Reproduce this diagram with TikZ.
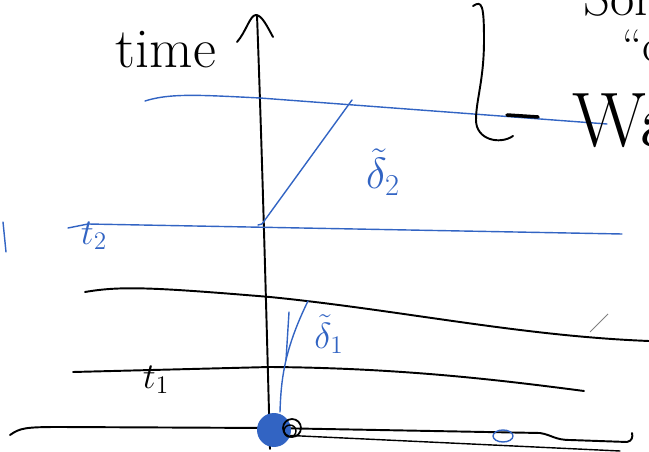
\documentclass[tikz,border=0pt]{standalone}
\usepackage{amsmath}

\definecolor{penblue}{RGB}{50,100,195}
\tikzset{
  inkline/.style={line width=1.1pt, color=black, line cap=round, line join=round},
  blueline/.style={line width=0.8pt, color=penblue, line cap=round, line join=round},
  hand/.style={inner sep=0pt}
}

\begin{document}
\begin{tikzpicture}[x=0.02cm,y=-0.02cm]
\useasboundingbox (0,0) rectangle (649,452);
\clip (0,0) rectangle (649,452);
% time axis
\draw[inkline] (270,449) .. controls (266,300) and (262,150) .. (257,15);
\draw[inkline] (237,42) .. controls (246,32) and (250,15) .. (256,15) .. controls (262,15) and (268,28) .. (273,37);
\node[hand, font=\fontsize{32}{32}\selectfont] (timelbl) at (166,50) {time};
% slices (blue)
\draw[blueline] (145,101) .. controls (170,93) and (200,95) .. (260,98) -- (607,124);
\draw[blueline] (68,228) -- (88,224) -- (622,234);
\draw[blueline] (258,225) -- (262,224) -- (352,100);
\draw[blueline] (3,222) -- (6,252);
\node[hand, color=penblue, font=\fontsize{26}{26}\selectfont] (deltatwo) at (383,172) {$\tilde{\delta}_2$};
\node[hand, color=penblue, font=\fontsize{20}{20}\selectfont] (ttwo) at (94,236) {$t_2$};
% slices (black)
\draw[inkline] (85,292) .. controls (120,286) and (150,287) .. (270,297) .. controls (400,310) and (520,336) .. (649,341);
\draw[line width=0.5pt, color=gray] (590,332) -- (608,314);
\draw[inkline] (73,372) -- (270,367) .. controls (400,368) and (500,380) .. (584,391);
\node[hand, font=\fontsize{22}{22}\selectfont] (tone) at (156,380) {$t_1$};
% blue curve from origin
\draw[blueline] (280,412) .. controls (281,380) and (284,350) .. (308,301);
\draw[blueline] (289,312) -- (286,360);
\node[hand, color=penblue, font=\fontsize{22}{22}\selectfont] (deltaone) at (329,334) {$\tilde{\delta}_1$};
% base line
\draw[inkline] (10,435) .. controls (20,428) and (25,427) .. (60,427) -- (270,428) -- (540,433) .. controls (552,435) and (555,440) .. (570,440) -- (627,442) .. controls (632,441) and (633,437) .. (632,433);
\draw[inkline, line width=0.8pt] (280,435) -- (620,451);
\fill[penblue] (274,430) circle (17);
\draw[inkline, line width=1pt] (292,428) circle (9);
\draw[inkline, line width=0.8pt] (290,431) circle (6);
\draw[blueline] (503,436) ellipse (10 and 6);
% brace and notes
\draw[inkline] (473,6) .. controls (482,0) and (484,5) .. (484,40) .. controls (484,80) and (476,100) .. (476,120) .. controls (476,140) and (500,145) .. (513,136);
\draw[inkline, line width=2pt] (507,115) -- (538,117);
\node[hand, anchor=base west, font=\fontsize{30}{30}\selectfont] (notea) at (583,16) {Some};
\node[hand, anchor=base west, font=\fontsize{26}{26}\selectfont] (noteb) at (622,62) {``c};
\node[hand, anchor=base west, font=\fontsize{44}{44}\selectfont] (notec) at (572,147) {Wa};
\end{tikzpicture}
\end{document}
